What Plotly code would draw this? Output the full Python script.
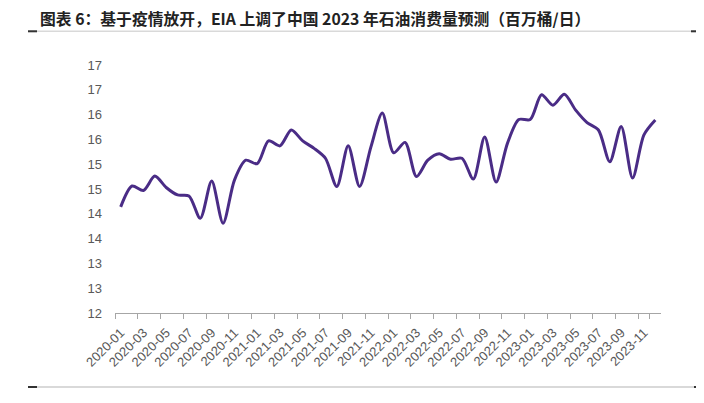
import plotly.graph_objects as go

months = [f"{y}-{m:02d}" for y in range(2020, 2024) for m in range(1, 13)]
consumption = [
    14.14, 14.56, 14.47, 14.76, 14.53, 14.38, 14.36, 13.91, 14.66, 13.81, 14.68, 15.08,
    15.01, 15.47, 15.37, 15.69, 15.47, 15.32, 15.12, 14.55, 15.37, 14.55, 15.35, 16.03,
    15.23, 15.44, 14.75, 15.08, 15.21, 15.10, 15.12, 14.70, 15.55, 14.64, 15.42, 15.90,
    15.90, 16.40, 16.19, 16.41, 16.09, 15.84, 15.69, 15.05, 15.76, 14.72, 15.59, 15.89,
]
y_tickvals = [12, 12.5, 13, 13.5, 14, 14.5, 15, 15.5, 16, 16.5, 17]
y_ticktext = ["12", "13", "13", "14", "14", "15", "15", "16", "16", "17", "17"]
x_tickvals = months[::2]

title = "图表 6：基于疫情放开，EIA 上调了中国 2023 年石油消费量预测（百万桶/日）"

fig = go.Figure()
fig.add_trace(go.Scatter(
    x=months, y=consumption, mode="lines",
    line=dict(color="#4a2c86", width=3, shape="spline", smoothing=0.8),
    hoverinfo="x+y", showlegend=False,
))

# page body has an 8px margin: lay out in page coordinates, then offset
OFF = 8
W, H = 704 - OFF, 403 - OFF
L, R, T, B = 115 - OFF, 43, 65 - OFF, 90
pw, ph = W - L - R, H - T - B

def px(x):
    return (x - OFF - L) / pw

def py(y):
    return (H - B - (y - OFF)) / ph

shapes = []
for yy, x0, x1, c0, c1, gw in [(31.3, 28, 700, 37, 691, 1.5), (387, 28, 703, 37, 694, 2)]:
    shapes.append(dict(type="line", xref="paper", yref="paper", x0=px(x0), x1=px(x1),
                       y0=py(yy), y1=py(yy), line=dict(color="#d9d9d9", width=gw)))
    shapes.append(dict(type="line", xref="paper", yref="paper", x0=px(x0), x1=px(c0),
                       y0=py(yy), y1=py(yy), line=dict(color="#333333", width=2)))
    shapes.append(dict(type="line", xref="paper", yref="paper", x0=px(c1), x1=px(x1),
                       y0=py(yy), y1=py(yy), line=dict(color="#333333", width=2)))

fig.update_layout(
    width=W, height=H,
    margin=dict(l=L, r=R, t=T, b=B, autoexpand=False),
    paper_bgcolor="white", plot_bgcolor="white",
    shapes=shapes,
    annotations=[dict(
        text=f"<b>{title}</b>", xref="paper", yref="paper",
        x=px(38), y=py(19), xanchor="left", yanchor="middle", showarrow=False,
        font=dict(family="Noto Sans CJK SC", size=15.8, color="#222222"),
    )],
    xaxis=dict(
        type="category", categoryorder="array", categoryarray=months,
        range=[-0.5, len(months) - 0.5],
        tickmode="array", tickvals=x_tickvals, ticktext=x_tickvals,
        tickson="boundaries", ticks="outside", ticklen=5, tickcolor="#a6a6a6",
        tickangle=-45, ticklabelstandoff=6,
        showline=True, linecolor="#a6a6a6", linewidth=1,
        showgrid=False, zeroline=False, automargin=False,
        tickfont=dict(family="Liberation Sans", size=13, color="#595959"),
    ),
    yaxis=dict(
        range=[12, 17], tickmode="array", tickvals=y_tickvals, ticktext=y_ticktext,
        showgrid=False, zeroline=False, showline=False, ticks="",
        ticklabelstandoff=12, automargin=False,
        tickfont=dict(family="Liberation Sans", size=13, color="#595959"),
    ),
)

fig.write_html("out.html")
